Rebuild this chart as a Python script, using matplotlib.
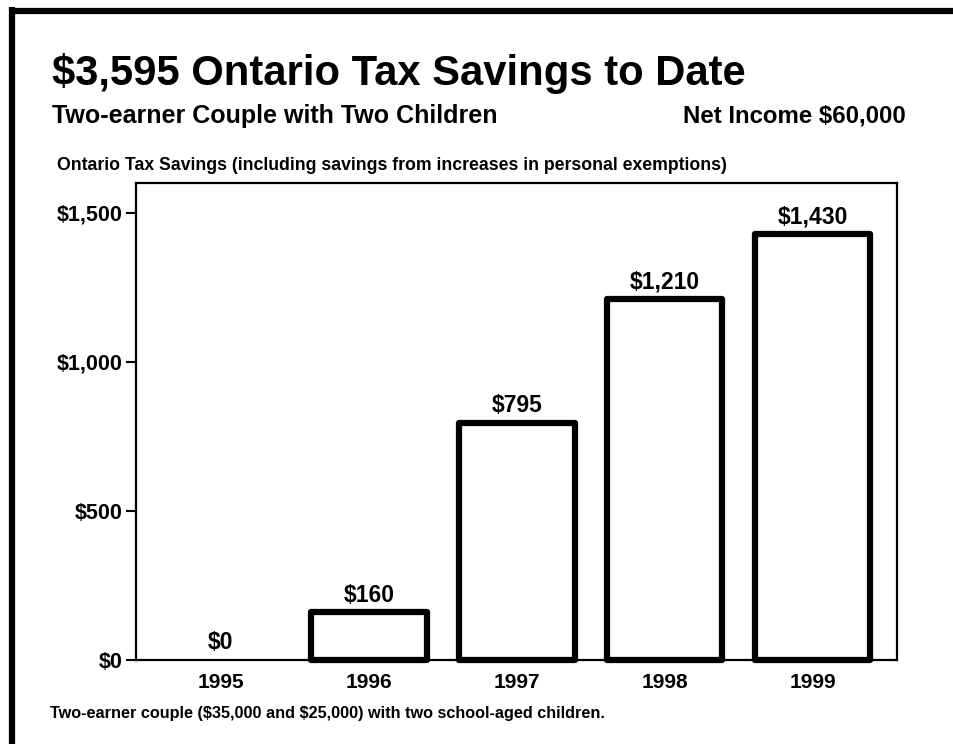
import matplotlib.pyplot as plt
from matplotlib.lines import Line2D

years = ['1995', '1996', '1997', '1998', '1999']
savings = [0, 160, 795, 1210, 1430]
value_labels = ['$0', '$160', '$795', '$1,210', '$1,430']
y_ticks = [0, 500, 1000, 1500]
y_tick_labels = ['$0', '$500', '$1,000', '$1,500']

plt.rcParams['font.family'] = ['Liberation Sans', 'DejaVu Sans']
plt.rcParams['font.weight'] = 'bold'
plt.rcParams['text.parse_math'] = False

fig = plt.figure(figsize=(9.54, 7.44), dpi=100)
ax = fig.add_axes([0.1426, 0.1129, 0.7977, 0.641])

x = range(len(years))
widths = [0 if v == 0 else 4.5 for v in savings]
bars = ax.bar(x, savings, width=0.78, color='white', edgecolor='black',
              linewidth=widths, joinstyle='round', zorder=3)
for b in bars:
    b.set_clip_on(False)

for i, (v, lab) in enumerate(zip(savings, value_labels)):
    ax.annotate(lab, (i, v), xytext=(0, 4), textcoords='offset points',
                ha='center', va='bottom', fontsize=16.5, fontweight='bold')

ax.set_xlim(-0.574, 4.57)
ax.set_ylim(0, 1600)
ax.set_xticks(list(x))
ax.set_xticklabels(years, fontsize=15, fontweight='bold')
ax.set_yticks(y_ticks)
ax.set_yticklabels(y_tick_labels, fontsize=15.5, fontweight='bold')
ax.tick_params(axis='x', length=0, pad=9)
ax.tick_params(axis='y', length=7, width=1.5, pad=3)
for s in ax.spines.values():
    s.set_linewidth(1.6)

fig.text(0.0545, 0.886, '$3,595 Ontario Tax Savings to Date',
         fontsize=30.1, fontweight='bold', va='baseline')
fig.text(0.0545, 0.835, 'Two-earner Couple with Two Children',
         fontsize=18, fontweight='bold', va='baseline')
fig.text(0.949, 0.835, 'Net Income $60,000',
         fontsize=17.3, fontweight='bold', va='baseline', ha='right')
fig.text(0.06, 0.7715,
         'Ontario Tax Savings (including savings from increases in personal exemptions)',
         fontsize=12.7, fontweight='bold', va='baseline')
fig.text(0.052, 0.035,
         'Two-earner couple ($35,000 and $25,000) with two school-aged children.',
         fontsize=11.7, fontweight='bold', va='baseline')

# frame along the top and left edge of the page
fig.add_artist(Line2D([9 / 954, 1.0], [1 - 10.5 / 744] * 2, color='black',
                      lw=4.5, solid_capstyle='butt'))
fig.add_artist(Line2D([12 / 954] * 2, [0, 1 - 7.4 / 744], color='black',
                      lw=4.5, solid_capstyle='butt'))

fig.savefig('out.png', dpi=100)
